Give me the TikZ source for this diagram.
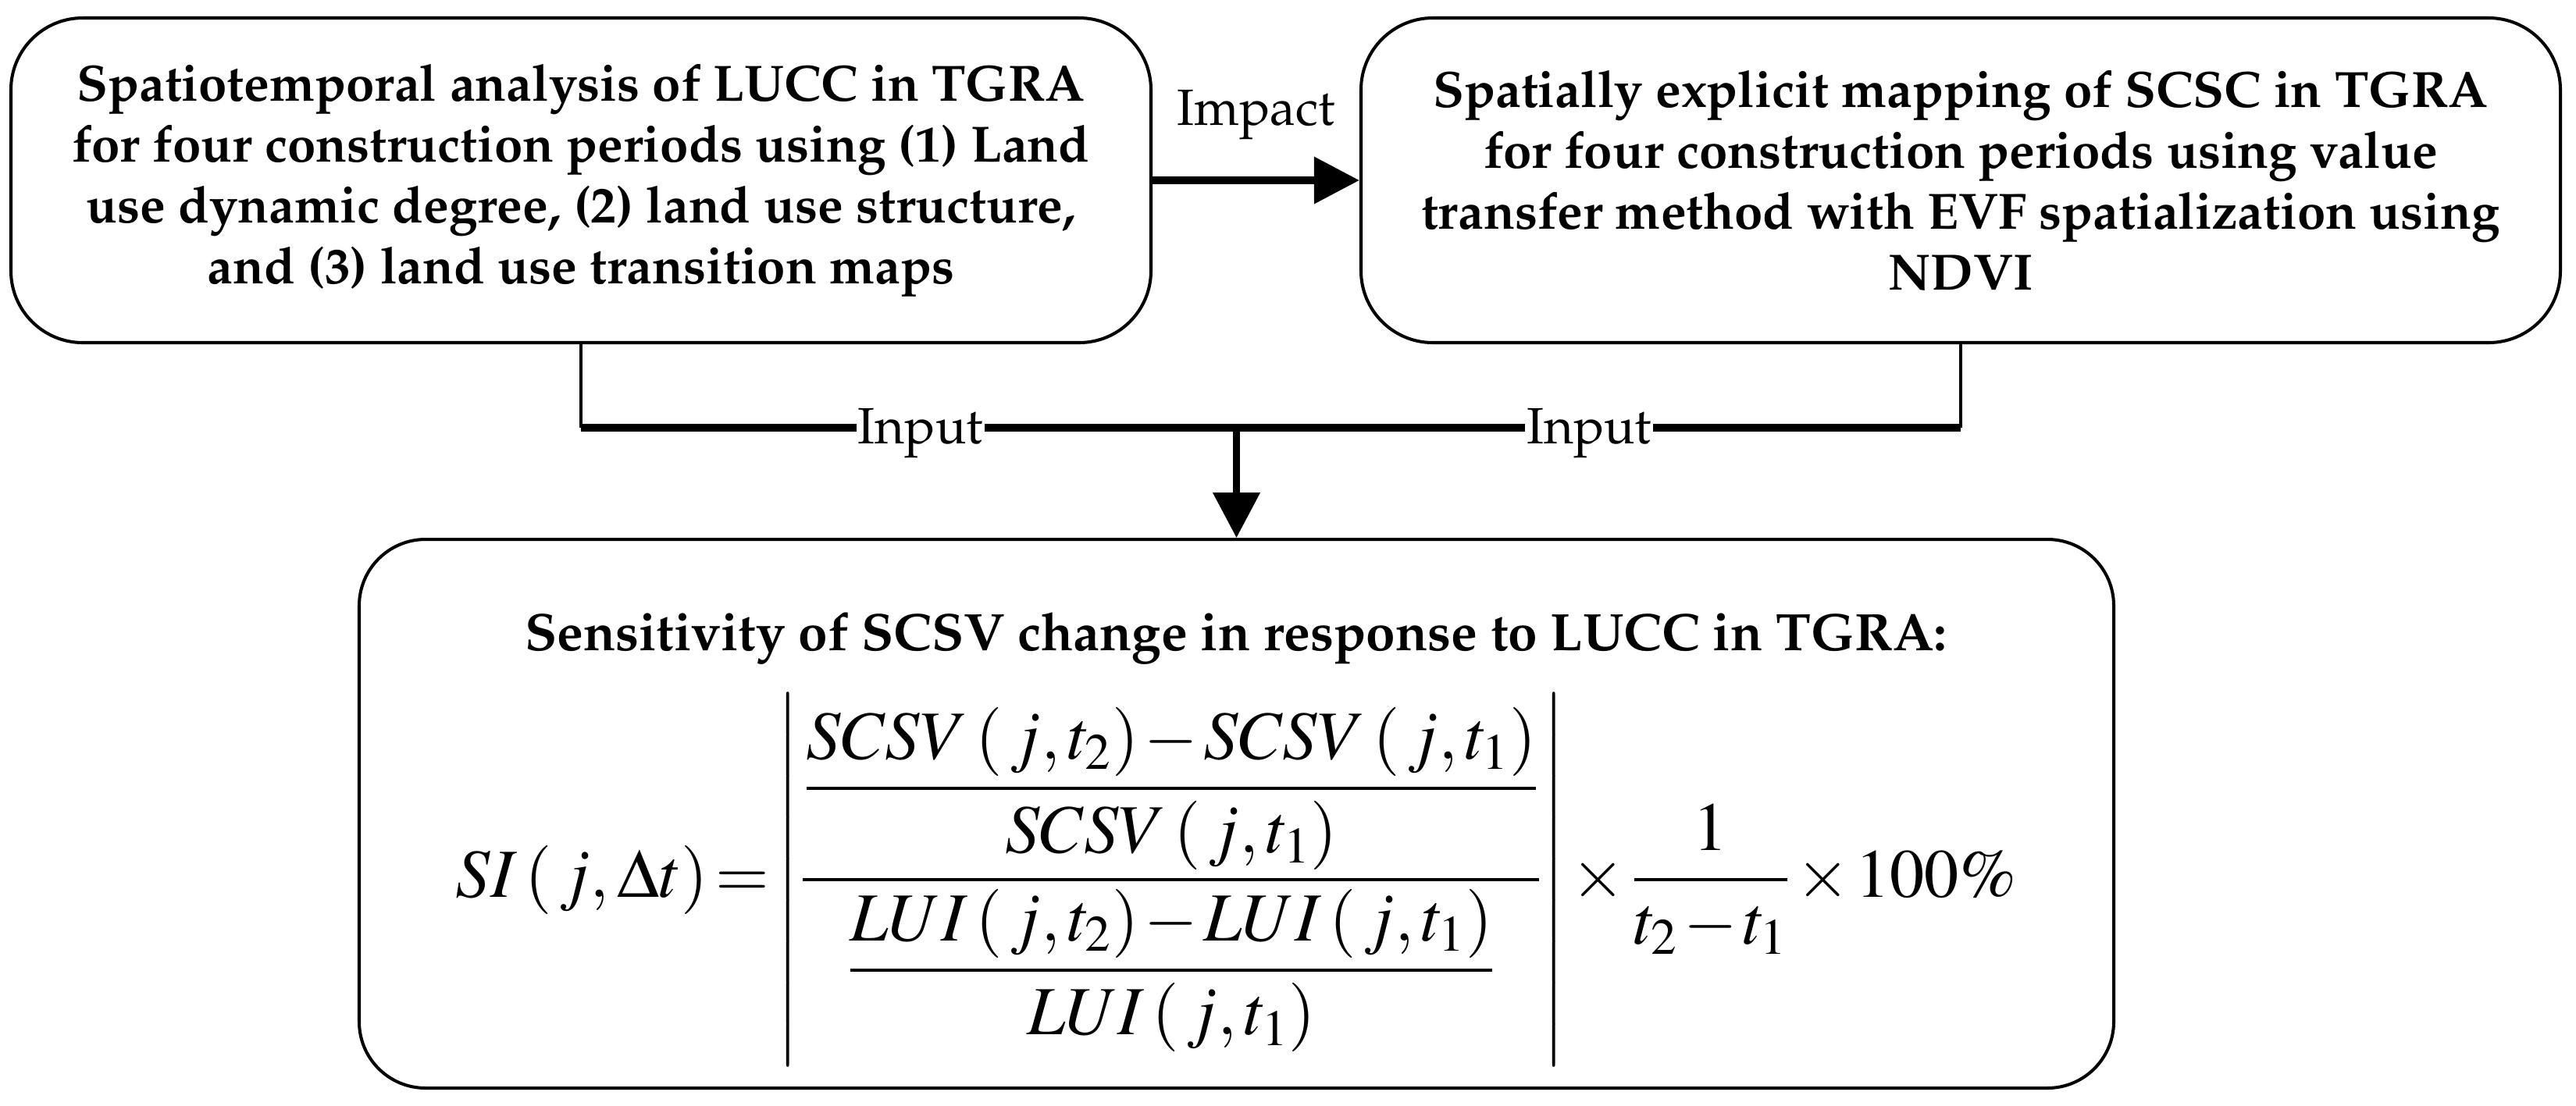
\documentclass[tikz,border=0pt]{standalone}
\usepackage[T1]{fontenc}
\usepackage{amsmath}
\usepackage{mathptmx}
\renewcommand{\rmdefault}{ppl}
\usetikzlibrary{arrows.meta}
\newcommand{\pctext}{\text{\fontfamily{ptm}\selectfont 100\%}}
\tikzset{
  boxtext/.style={font=\fontsize{18.6}{22.2}\selectfont\bfseries},
  plaintext/.style={font=\fontsize{18.6}{22.2}\selectfont},
  topbox/.style={draw, line width=1.15pt, rounded corners=0.92cm,
    minimum height=4.16cm, align=center, inner sep=0pt, boxtext},
  bottombox/.style={draw, line width=1.15pt, rounded corners=0.85cm,
    minimum width=22.47cm, minimum height=7.03cm, inner sep=0pt},
  impactarrow/.style={line width=2.85pt, -{Triangle[length=0.58cm,width=0.58cm]}},
  stem/.style={line width=1.4pt},
  busline/.style={line width=2.7pt},
  downarrow/.style={line width=2.3pt, -{Triangle[length=0.58cm,width=0.59cm]}},
  inlabel/.style={plaintext, fill=white, inner xsep=0.5pt, inner ysep=2pt, anchor=base, yshift=-0.20cm}
}
\begin{document}
\begin{tikzpicture}
\useasboundingbox (0,0) rectangle (32.99,-14.16);

\node[topbox, minimum width=14.60cm] (lbox) at (7.44,-2.31)
  {Spatiotemporal analysis of LUCC in TGRA\\
   for four construction periods using (1) Land\\
   use dynamic degree, (2) land use structure,\\
   and (3) land use transition maps};

\node[topbox, minimum width=15.36cm] (rbox) at (25.11,-2.31)
  {Spatially explicit mapping of SCSC in TGRA\\
   for four construction periods using value\\
   transfer method with EVF spatialization using\\
   NDVI};

\node[bottombox] (sens) at (15.835,-10.425) {};

\node[font=\fontsize{19.2}{23}\selectfont\bfseries, anchor=base] (title) at (15.83,-8.33)
  {Sensitivity of SCSV change in response to LUCC in TGRA:};

\node[inner sep=0pt, font=\fontsize{25.1}{30}\selectfont] (formula) at (15.83,-11.27)
  {\medmuskip=1.5mu\thickmuskip=2mu
   $SI\left(\,j,\Delta t\right)=\left|\dfrac{\dfrac{SCSV\left(\,j,t_2\right)-SCSV\left(\,j,t_1\right)}{SCSV\left(\,j,t_1\right)}}{\dfrac{LUI\left(\,j,t_2\right)-LUI\left(\,j,t_1\right)}{LUI\left(\,j,t_1\right)}}\right|\times\dfrac{1}{t_2-t_1}\times\pctext$};

% Impact arrow
\draw[impactarrow] (lbox.east) -- node[plaintext, above=0.35cm] (impact) {Impact} (rbox.west);

% Input connectors
\coordinate (jl) at (lbox.south |- 0,-5.48);
\coordinate (jr) at (rbox.south |- 0,-5.48);
\coordinate (jm) at (sens.north |- 0,-5.48);
\draw[stem] (lbox.south) -- (jl);
\draw[stem] (rbox.south) -- (jr);
\draw[busline] (jl) -- node[inlabel, pos=0.518] (in1) {Input} (jm)
                    -- node[inlabel, pos=0.487] (in2) {Input} (jr);
\draw[downarrow] (jm) -- (sens.north);
\end{tikzpicture}
\end{document}
